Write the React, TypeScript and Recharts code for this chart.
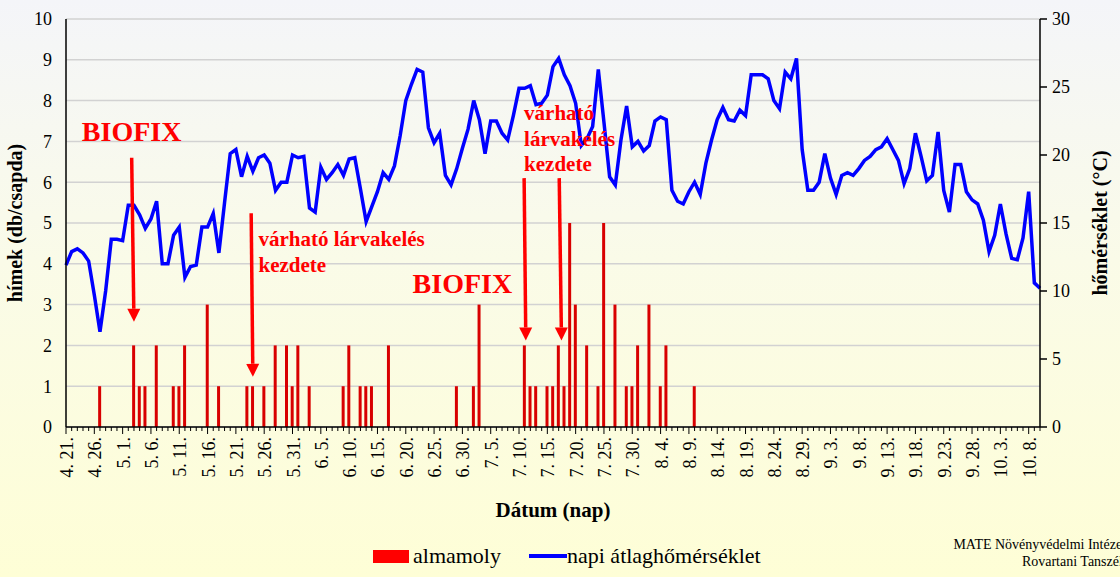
import React from 'react';
import {
  ComposedChart,
  Bar,
  Line,
  XAxis,
  YAxis,
  CartesianGrid,
  Legend,
  ReferenceLine,
  ReferenceDot,
} from 'recharts';

// x tick labels, one every 5 days starting at 4. 21.
const tickLabels = [
  '4. 21.', '4. 26.', '5. 1.', '5. 6.', '5. 11.', '5. 16.', '5. 21.', '5. 26.', '5. 31.',
  '6. 5.', '6. 10.', '6. 15.', '6. 20.', '6. 25.', '6. 30.', '7. 5.', '7. 10.', '7. 15.',
  '7. 20.', '7. 25.', '7. 30.', '8. 4.', '8. 9.', '8. 14.', '8. 19.', '8. 24.', '8. 29.',
  '9. 3.', '9. 8.', '9. 13.', '9. 18.', '9. 23.', '9. 28.', '10. 3.', '10. 8.',
];

// daily mean temperature (°C), 4. 21. - 10. 10.
const temps = [
  11.9, 12.9, 13.1, 12.8, 12.2, 9.7, 7.0, 10.0, 13.8, 13.8,
  13.7, 16.3, 16.3, 15.6, 14.6, 15.3, 16.6, 12.0, 12.0, 14.1,
  14.7, 11.0, 11.8, 11.9, 14.7, 14.7, 15.7, 12.8, 16.5, 20.1,
  20.4, 18.4, 19.9, 18.8, 19.8, 20.0, 19.4, 17.4, 18.0, 18.0,
  20.0, 19.8, 19.9, 16.1, 15.8, 19.1, 18.2, 18.7, 19.3, 18.5,
  19.7, 19.8, 17.5, 15.1, 16.2, 17.3, 18.7, 18.2, 19.2, 21.4,
  24.0, 25.2, 26.3, 26.1, 22.0, 20.9, 21.6, 18.5, 17.8, 19.0,
  20.5, 21.9, 24.0, 22.6, 20.1, 22.5, 22.5, 21.6, 21.1, 22.9,
  24.9, 24.9, 25.1, 23.7, 23.8, 24.4, 26.5, 27.1, 25.9, 25.1,
  23.8, 20.7, 21.2, 22.1, 26.3, 22.4, 18.4, 17.8, 21.1, 23.6,
  20.6, 21.0, 20.3, 20.7, 22.5, 22.8, 22.6, 17.4, 16.6, 16.4,
  17.3, 18.0, 17.1, 19.4, 21.1, 22.6, 23.5, 22.6, 22.5, 23.3,
  22.9, 25.9, 25.9, 25.9, 25.6, 24.0, 23.4, 26.1, 25.6, 27.1,
  20.4, 17.4, 17.4, 18.0, 20.1, 18.3, 17.1, 18.5, 18.7, 18.5,
  19.0, 19.6, 19.9, 20.4, 20.6, 21.2, 20.4, 19.6, 17.9, 19.0,
  21.6, 19.9, 18.1, 18.5, 21.7, 17.4, 15.8, 19.3, 19.3, 17.3,
  16.7, 16.4, 15.2, 12.9, 14.1, 16.4, 14.2, 12.4, 12.3, 13.9,
  17.3, 10.6, 10.2,
];

// trap catches (day index from 4. 21.) and counts
const catchDays = [
  6, 12, 13, 14, 16, 19, 20, 21, 25, 27, 32, 33, 35, 37, 39, 40, 41, 43,
  49, 50, 52, 53, 54, 57, 69, 72, 73, 81, 82, 83, 85, 86, 87, 88, 89, 90,
  92, 94, 95, 97, 99, 100, 101, 103, 105, 106, 111,
];
const catchCounts = [
  1, 2, 1, 1, 2, 1, 1, 2, 3, 1, 1, 1, 1, 2, 2, 1, 2, 1,
  1, 2, 1, 1, 1, 2, 1, 1, 3, 2, 1, 1, 1, 1, 2, 1, 5, 3,
  2, 1, 5, 3, 1, 1, 2, 3, 1, 2, 1,
];

const data = temps.map((t, i) => {
  const k = catchDays.indexOf(i);
  return { day: i, almamoly: k >= 0 ? catchCounts[k] : 0, temp: t };
});

const lastDay = temps.length - 1;
const dayTicks = temps.map((_, i) => i);

const SERIF = '"Liberation Serif", "Times New Roman", serif';
const RED = '#ff0000';

// annotations in chart units (day, left axis value)
const arrows = [
  { from: [11.6, 6.6], to: [12.0, 2.58] },
  { from: [32.7, 5.24], to: [33.0, 1.23] },
  { from: [80.9, 6.1], to: [81.2, 2.12] },
  { from: [87.1, 6.1], to: [87.5, 2.12] },
];
const notes = [
  { day: 2.8, y: 7.0, text: 'BIOFIX', size: 28 },
  { day: 61.2, y: 3.28, text: 'BIOFIX', size: 28 },
  { day: 34.0, y: 4.44, text: 'várható lárvakelés', size: 21 },
  { day: 34.0, y: 3.81, text: 'kezdete', size: 21 },
  { day: 80.9, y: 7.52, text: 'várható', size: 21 },
  { day: 80.9, y: 6.89, text: 'lárvakelés', size: 21 },
  { day: 80.9, y: 6.28, text: 'kezdete', size: 21 },
];

function DayTick(props: any) {
  const { x, y, payload } = props;
  const i = payload.value;
  const major = i % 5 === 0;
  return (
    <g>
      <line x1={x} x2={x} y1={y} y2={y + (major ? 7 : 4)} stroke="#000" strokeWidth={1} />
      {major && (
        <text
          transform={`translate(${x + 1},${y + 10}) rotate(-90)`}
          textAnchor="end"
          dominantBaseline="central"
          fontSize={18}
          style={{ fontFamily: SERIF }}
          fill="#000"
        >
          {tickLabels[i / 5]}
        </text>
      )}
    </g>
  );
}

function ArrowShape(props: any) {
  const { x1, y1, x2, y2 } = props;
  const dx = x2 - x1;
  const dy = y2 - y1;
  const len = Math.sqrt(dx * dx + dy * dy);
  const ux = dx / len;
  const uy = dy / len;
  const head = 13;
  const hw = 6.5;
  const bx = x2 - ux * head;
  const by = y2 - uy * head;
  return (
    <g>
      <line x1={x1} y1={y1} x2={bx} y2={by} stroke={RED} strokeWidth={3.5} />
      <polygon
        points={`${x2},${y2} ${bx - uy * hw},${by + ux * hw} ${bx + uy * hw},${by - ux * hw}`}
        fill={RED}
      />
    </g>
  );
}

function LegendContent() {
  return (
    <div
      style={{
        display: 'flex',
        alignItems: 'center',
        height: 24,
        paddingLeft: 365,
        fontFamily: SERIF,
        fontSize: 22,
        color: '#000',
      }}
    >
      <span style={{ display: 'inline-block', width: 36, height: 13, background: RED, marginRight: 4 }} />
      <span>almamoly</span>
      <span style={{ display: 'inline-block', width: 38, height: 4, background: '#0000ff', marginLeft: 28 }} />
      <span>napi átlaghőmérséklet</span>
    </div>
  );
}

export default function App() {
  return (
    <div
      style={{
        position: 'absolute',
        left: 0,
        top: 0,
        width: 1120,
        height: 577,
        overflow: 'hidden',
        background: 'linear-gradient(#f4f5f9 0%, #fafbe8 45%, #fefed6 100%)',
      }}
    >
      <ComposedChart
        width={1120}
        height={577}
        data={data}
        margin={{ top: 19, right: 14, left: 8, bottom: 9 }}
      >
        <CartesianGrid yAxisId="left" xAxisId="d" vertical={false} stroke="#d2d2d2" strokeWidth={1.5} />
        <XAxis
          xAxisId="d"
          dataKey="day"
          type="number"
          domain={[0, lastDay]}
          ticks={dayTicks}
          interval={0}
          tickLine={false}
          tickSize={0}
          tickMargin={0}
          tick={<DayTick />}
          height={117}
          axisLine={{ stroke: '#000', strokeWidth: 1.5 }}
          label={{
            value: 'Dátum (nap)',
            position: 'insideBottom',
            offset: 27,
            style: { fontFamily: SERIF, fontSize: 21, fontWeight: 'bold', fill: '#000' },
          }}
        />
        <YAxis
          yAxisId="left"
          domain={[0, 10]}
          ticks={[0, 1, 2, 3, 4, 5, 6, 7, 8, 9, 10]}
          width={58}
          tickLine={false}
          tickSize={0}
          tickMargin={14}
          axisLine={{ stroke: '#000', strokeWidth: 1.5 }}
          tick={{ fontFamily: SERIF, fontSize: 18, fill: '#000' }}
          label={{
            value: 'hímek (db/csapda)',
            angle: -90,
            position: 'insideLeft',
            offset: 7,
            style: { textAnchor: 'middle', fontFamily: SERIF, fontSize: 20, fontWeight: 'bold', fill: '#000' },
          }}
        />
        <YAxis
          yAxisId="right"
          orientation="right"
          domain={[0, 30]}
          ticks={[0, 5, 10, 15, 20, 25, 30]}
          width={66}
          tickSize={7}
          tickMargin={5}
          tickLine={{ stroke: '#000', strokeWidth: 1.5 }}
          axisLine={{ stroke: '#000', strokeWidth: 1.5 }}
          tick={{ fontFamily: SERIF, fontSize: 18, fill: '#000' }}
          label={{
            value: 'hőmérséklet (°C)',
            angle: -90,
            position: 'insideRight',
            offset: 6,
            style: { textAnchor: 'middle', fontFamily: SERIF, fontSize: 20, fontWeight: 'bold', fill: '#000' },
          }}
        />
        <Bar
          xAxisId="d"
          yAxisId="left"
          dataKey="almamoly"
          name="almamoly"
          fill="#d80000"
          barSize={3}
          isAnimationActive={false}
        />
        <Line
          xAxisId="d"
          yAxisId="right"
          dataKey="temp"
          name="napi átlaghőmérséklet"
          type="linear"
          stroke="#0000ff"
          strokeWidth={3.5}
          dot={false}
          activeDot={false}
          isAnimationActive={false}
        />
        {arrows.map((a, k) => (
          <ReferenceLine
            key={`a${k}`}
            xAxisId="d"
            yAxisId="left"
            segment={[
              { x: a.from[0], y: a.from[1] },
              { x: a.to[0], y: a.to[1] },
            ]}
            shape={<ArrowShape />}
          />
        ))}
        {notes.map((n, k) => (
          <ReferenceDot
            key={`n${k}`}
            xAxisId="d"
            yAxisId="left"
            x={n.day}
            y={n.y}
            shape={(p: any) => (
              <text
                x={p.cx}
                y={p.cy}
                fill={RED}
                style={{ fontFamily: SERIF }}
                fontWeight="bold"
                fontSize={n.size}
              >
                {n.text}
              </text>
            )}
          />
        ))}
        <Legend verticalAlign="bottom" align="left" content={<LegendContent />} />
      </ComposedChart>
      <div
        style={{
          position: 'absolute',
          right: -6,
          top: 536,
          textAlign: 'right',
          fontFamily: SERIF,
          fontSize: 14,
          lineHeight: '17px',
          color: '#000',
          whiteSpace: 'nowrap',
        }}
      >
        MATE Növényvédelmi Intézet
        <br />
        Rovartani Tanszék
      </div>
    </div>
  );
}
